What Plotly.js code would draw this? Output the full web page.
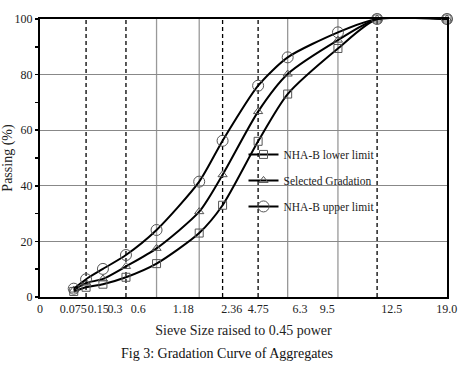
<!DOCTYPE html>
<html>
<head>
<meta charset="utf-8">
<script src="https://cdn.plot.ly/plotly-3.0.1.min.js"></script>
<style>html,body{margin:0;padding:0;background:#fff;}#chart{width:472px;height:366px;}</style>
</head>
<body>
<div id="chart"></div>
<script>
// Sieve sizes (mm) of the plotted points (one intermediate point)
const sieveSizes = [0.075, 0.15, 0.3, 0.6, 1.18, 2.36, 3.2, 4.75, 6.3, 9.5, 12.5, 19.0];
const lowerLimit = [2, 3.5, 4.6, 7.1, 12, 23, 33, 56, 73, 89.4, 100, 100];
const selectedGradation = [2.5, 5, 6.5, 11, 17.5, 30.7, 44, 66.7, 80.2, 92.4, 100, 100];
const upperLimit = [3, 6.4, 10.1, 15.1, 24.1, 41.5, 56.2, 76, 86.2, 95.2, 100, 100];
const seriesNames = ['NHA-B lower limit', 'Selected Gradation', 'NHA-B upper limit'];
const seriesSymbols = ['square-open', 'triangle-up-open', 'circle-open'];
const seriesMarkerSizes = [8, 8, 11];
// Tick labels along the x axis and the axis values (0.45-power units) where they sit
const tickLabels = ['0', '0.075', '0.15', '0.3', '0.6', '1.18', '2.36', '4.75', '6.3', '9.5', '12.5', '19.0'];
const tickPositions = [0, 0.308, 0.539, 0.693, 0.909, 1.325, 1.772, 2.018, 2.404, 2.656, 3.252, 3.760];
// which point columns carry dashed / solid vertical guide lines
const dashedGuideIdx = [1, 3, 6, 7, 10];
const solidGuideIdx = [4, 5, 8, 9];

const P = 0.45;
const xPow = sieveSizes.map(s => Math.pow(s, P));
const ser = [lowerLimit, selectedGradation, upperLimit];
const FONT = 'Liberation Serif, Times New Roman, serif';

const traces = ser.map((vals, i) => ({
  x: xPow, y: vals, type: 'scatter', mode: 'lines+markers',
  name: seriesNames[i], legendgroup: 'g' + i,
  line: {color: '#000', width: 2, shape: 'spline', smoothing: 0.7},
  marker: {symbol: seriesSymbols[i], size: seriesMarkerSizes[i], color: '#555', line: {color: '#555', width: 1}},
  cliponaxis: false
}));

const shapes = [];
dashedGuideIdx.forEach(k => shapes.push({type: 'line', xref: 'x', yref: 'paper', x0: xPow[k], x1: xPow[k], y0: 0, y1: 1, layer: 'below', line: {color: '#000', width: 1.3, dash: '4px,3px'}}));
solidGuideIdx.forEach(k => shapes.push({type: 'line', xref: 'x', yref: 'paper', x0: xPow[k], x1: xPow[k], y0: 0, y1: 1, layer: 'below', line: {color: '#999', width: 1.3}}));

const layout = {
  width: 472, height: 366,
  margin: {l: 40, r: 25, t: 19, b: 69},
  paper_bgcolor: '#fff', plot_bgcolor: '#fff',
  font: {family: FONT, size: 12, color: '#222'},
  showlegend: true,
  legend: {x: 0.50, y: 0.565, xanchor: 'left', yanchor: 'top', bgcolor: 'rgba(0,0,0,0)',
    font: {family: FONT, size: 11.5, color: '#222'}, tracegroupgap: 7, itemwidth: 30},
  xaxis: {
    range: [0, Math.pow(19, P)], showgrid: false, zeroline: false, automargin: false,
    showline: true, linecolor: '#000', linewidth: 2, mirror: true,
    tickmode: 'array', tickvals: tickPositions, ticktext: tickLabels, ticks: '', tickangle: 0,
    tickfont: {family: FONT, size: 12, color: '#222'},
    title: {text: 'Sieve Size raised to 0.45 power', font: {family: FONT, size: 14, color: '#222'}, standoff: 10}
  },
  yaxis: {
    range: [0, 100], dtick: 20, showgrid: true, gridcolor: '#888', gridwidth: 1, zeroline: false, automargin: false,
    showline: true, linecolor: '#000', linewidth: 2, mirror: true,
    ticks: 'outside', ticklen: 3, tickwidth: 1.5, tickcolor: '#000',
    minor: {dtick: 10, ticks: 'outside', ticklen: 3, tickwidth: 1.5, tickcolor: '#000', showgrid: false},
    tickfont: {family: FONT, size: 12, color: '#222'},
    title: {text: 'Passing (%)', font: {family: FONT, size: 14, color: '#222'}, standoff: 6}
  },
  shapes: shapes,
  annotations: [{
    text: 'Fig 3: Gradation Curve of Aggregates', xref: 'paper', yref: 'paper',
    x: 0.46, y: -0.205, xanchor: 'center', yanchor: 'middle', showarrow: false,
    font: {family: FONT, size: 14, color: '#111'}
  }]
};

Plotly.newPlot('chart', traces, layout, {displayModeBar: false, staticPlot: true});
</script>
</body>
</html>
